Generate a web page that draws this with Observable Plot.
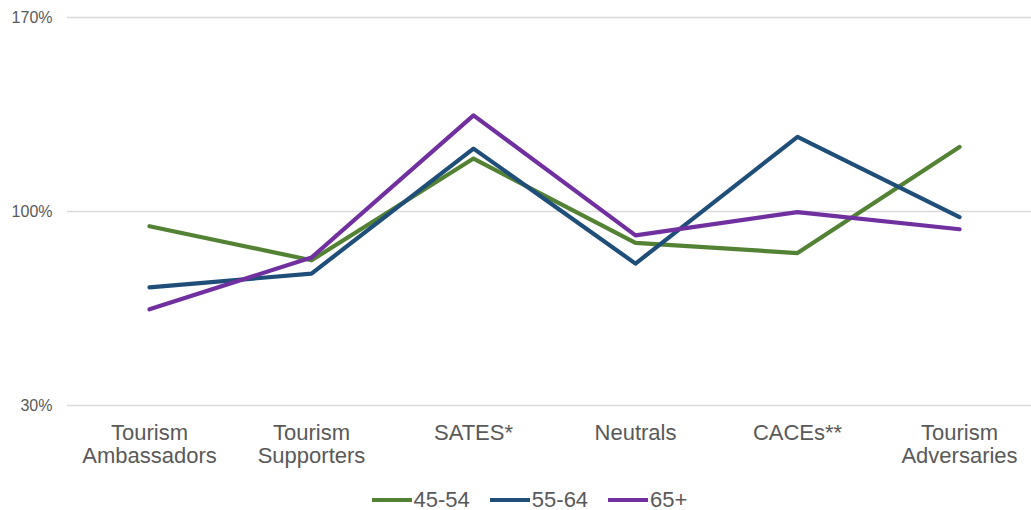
<!DOCTYPE html>
<html>
<head>
<meta charset="utf-8">
<script src="https://cdn.jsdelivr.net/npm/d3@7"></script>
<script src="https://cdn.jsdelivr.net/npm/@observablehq/plot@0.6"></script>
<style>
  html, body { margin: 0; padding: 0; background: #fff; }
  #chart { width: 1031px; }
  .legend { display: flex; justify-content: center; align-items: center; height: 24px; font-family: "Liberation Sans", Arial, sans-serif; font-size: 22px; color: #595959; margin-left: 28px; }
  .legend .item { display: flex; align-items: center; margin: 0 10px; }
  .legend .sw { width: 40px; height: 4px; margin-right: 2px; }
</style>
</head>
<body>
<div id="chart"></div>
<script>
const categories = ["Tourism\nAmbassadors", "Tourism\nSupporters", "SATES*", "Neutrals", "CACEs**", "Tourism\nAdversaries"];
const seriesNames = ["45-54", "55-64", "65+"];
const seriesColors = ["#548235", "#1F4E79", "#7030A0"];
const values4554 = [94.7, 82.4, 119.1, 88.7, 85.0, 123.3];
const values5564 = [72.6, 77.6, 122.7, 81.2, 126.9, 98.0];
const values65 = [64.7, 83.4, 134.7, 91.4, 99.8, 93.6];
const yTicks = [30, 100, 170];

const seriesValues = [values4554, values5564, values65];
const data = [];
seriesNames.forEach((s, i) => {
  categories.forEach((c, j) => data.push({series: s, cat: c, value: seriesValues[i][j]}));
});

const plot = Plot.plot({
  width: 1031,
  height: 488,
  marginTop: 17,
  marginBottom: 83,
  marginLeft: 67,
  marginRight: 0,
  style: {fontFamily: "'Liberation Sans', Arial, sans-serif", color: "#595959", background: "#fff"},
  x: {type: "point", domain: categories, range: [148, 960], padding: 0, label: null},
  y: {domain: [30, 170], label: null},
  color: {domain: seriesNames, range: seriesColors},
  marks: [
    Plot.ruleY(yTicks, {stroke: "#d9d9d9", strokeWidth: 1.5}),
    Plot.axisY({ticks: yTicks, tickSize: 0, tickPadding: 15, tickFormat: d => d + "%", fontSize: 16, label: null}),
    Plot.axisX({tickSize: 0, tickPadding: 18, fontSize: 22, lineHeight: 1.05, label: null}),
    Plot.line(data, {x: "cat", y: "value", z: "series", stroke: "series", strokeWidth: 4.2, strokeLinejoin: "round", strokeLinecap: "round"})
  ]
});
document.getElementById("chart").appendChild(plot);

const legend = document.createElement("div");
legend.className = "legend";
seriesNames.forEach((s, i) => {
  const item = document.createElement("div");
  item.className = "item";
  const sw = document.createElement("span");
  sw.className = "sw";
  sw.style.background = seriesColors[i];
  const t = document.createElement("span");
  t.textContent = s;
  item.appendChild(sw);
  item.appendChild(t);
  legend.appendChild(item);
});
document.getElementById("chart").appendChild(legend);
</script>
</body>
</html>
